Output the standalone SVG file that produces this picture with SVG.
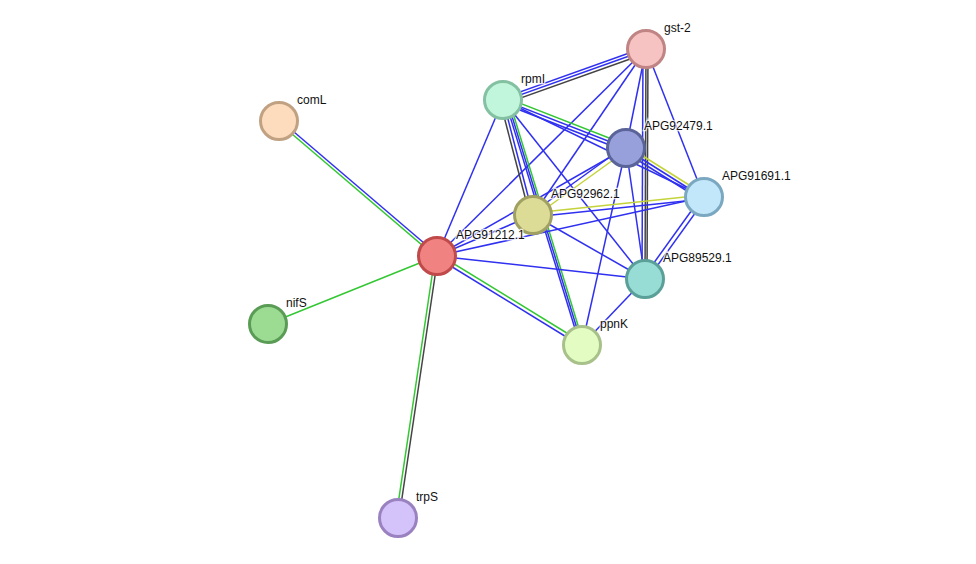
<svg xmlns="http://www.w3.org/2000/svg" width="976" height="564" viewBox="0 0 976 564">
<style>
.b{stroke:#3030f0;stroke-width:1.5}
.g{stroke:#33c733;stroke-width:1.5}
.k{stroke:#444;stroke-width:1.5}
.y{stroke:#c4d33a;stroke-width:1.5}
.n{stroke-width:3}
text{font-family:"Liberation Sans",Arial,sans-serif;font-size:12px;fill:#111;stroke:#fff;stroke-width:2.5;stroke-opacity:0.8;paint-order:stroke}
</style>
<rect width="976" height="564" fill="#fff"/>
<g id="connectors">
<line class="b" x1="646" y1="47" x2="503" y2="98"/>
<line class="b" x1="646" y1="50" x2="503" y2="101"/>
<line class="k" x1="647" y1="53" x2="504" y2="104"/>
<line class="b" x1="646" y1="49" x2="437" y2="256"/>
<line class="b" x1="646" y1="49" x2="533" y2="215"/>
<line class="b" x1="646" y1="49" x2="626" y2="148"/>
<line class="b" x1="643" y1="49" x2="642" y2="279"/>
<line class="k" x1="646" y1="49" x2="645" y2="279"/>
<line class="k" x1="648" y1="49" x2="647" y2="279"/>
<line class="b" x1="646" y1="49" x2="704" y2="197"/>
<line class="g" x1="504" y1="97" x2="627" y2="145"/>
<line class="b" x1="503" y1="100" x2="626" y2="148"/>
<line class="b" x1="502" y1="103" x2="625" y2="151"/>
<line class="b" x1="503" y1="100" x2="704" y2="197"/>
<line class="k" x1="500" y1="101" x2="530" y2="216"/>
<line class="b" x1="503" y1="100" x2="533" y2="215"/>
<line class="b" x1="505" y1="100" x2="580" y2="345"/>
<line class="b" x1="507" y1="100" x2="582" y2="345"/>
<line class="g" x1="509" y1="100" x2="584" y2="345"/>
<line class="b" x1="503" y1="100" x2="645" y2="279"/>
<line class="b" x1="503" y1="100" x2="437" y2="256"/>
<line class="b" x1="625" y1="146" x2="532" y2="213"/>
<line class="y" x1="627" y1="150" x2="534" y2="217"/>
<line class="b" x1="626" y1="148" x2="437" y2="256"/>
<line class="y" x1="627" y1="146" x2="705" y2="195"/>
<line class="b" x1="626" y1="149" x2="704" y2="198"/>
<line class="b" x1="625" y1="152" x2="703" y2="201"/>
<line class="b" x1="626" y1="148" x2="645" y2="279"/>
<line class="b" x1="626" y1="148" x2="582" y2="345"/>
<line class="y" x1="533" y1="213" x2="704" y2="195"/>
<line class="b" x1="533" y1="217" x2="704" y2="199"/>
<line class="b" x1="533" y1="215" x2="645" y2="279"/>
<line class="b" x1="533" y1="215" x2="437" y2="256"/>
<line class="b" x1="437" y1="256" x2="704" y2="197"/>
<line class="b" x1="437" y1="256" x2="645" y2="279"/>
<line class="g" x1="438" y1="254" x2="583" y2="343"/>
<line class="b" x1="436" y1="257" x2="581" y2="346"/>
<line class="b" x1="702" y1="196" x2="643" y2="278"/>
<line class="b" x1="706" y1="198" x2="647" y2="280"/>
<line class="b" x1="645" y1="279" x2="582" y2="345"/>
<line class="g" x1="278" y1="122" x2="436" y2="257"/>
<line class="b" x1="280" y1="120" x2="438" y2="255"/>
<line class="g" x1="437" y1="256" x2="268" y2="324"/>
<line class="g" x1="435" y1="256" x2="396" y2="518"/>
<line class="k" x1="438" y1="256" x2="399" y2="518"/>
</g>
<g id="gst-2"><circle class="n" cx="646" cy="49" r="18.5" fill="#f6c2c2" stroke="#c08484"/><text x="664" y="32">gst-2</text></g>
<g id="rpmI"><circle class="n" cx="503" cy="100" r="18.5" fill="#c2f6dc" stroke="#84c0a2"/><text x="521" y="83">rpmI</text></g>
<g id="comL"><circle class="n" cx="279" cy="121" r="18.5" fill="#fddcbe" stroke="#c0a282"/><text x="297" y="104">comL</text></g>
<g id="APG92479.1"><circle class="n" cx="626" cy="148" r="18.5" fill="#98a0dc" stroke="#5a6498"/><text x="644" y="130">APG92479.1</text></g>
<g id="APG91691.1"><circle class="n" cx="704" cy="197" r="18.5" fill="#c2e6fa" stroke="#7aa8c0"/><text x="722" y="180">APG91691.1</text></g>
<g id="APG92962.1"><circle class="n" cx="533" cy="215" r="18.5" fill="#dcdc96" stroke="#a0a062"/><text x="551" y="198">APG92962.1</text></g>
<g id="APG91212.1"><circle class="n" cx="437" cy="256" r="18.5" fill="#f08282" stroke="#c04a4a"/><text x="456" y="239">APG91212.1</text></g>
<g id="APG89529.1"><circle class="n" cx="645" cy="279" r="18.5" fill="#98dcd6" stroke="#5aa098"/><text x="663" y="262">APG89529.1</text></g>
<g id="nifS"><circle class="n" cx="268" cy="324" r="18.5" fill="#9cdc92" stroke="#5a9c56"/><text x="286" y="307">nifS</text></g>
<g id="ppnK"><circle class="n" cx="582" cy="345" r="18.5" fill="#e2fcc2" stroke="#a8c08a"/><text x="600" y="328">ppnK</text></g>
<g id="trpS"><circle class="n" cx="398" cy="518" r="18.5" fill="#d4c2fa" stroke="#9a82c0"/><text x="416" y="501">trpS</text></g>
</svg>
